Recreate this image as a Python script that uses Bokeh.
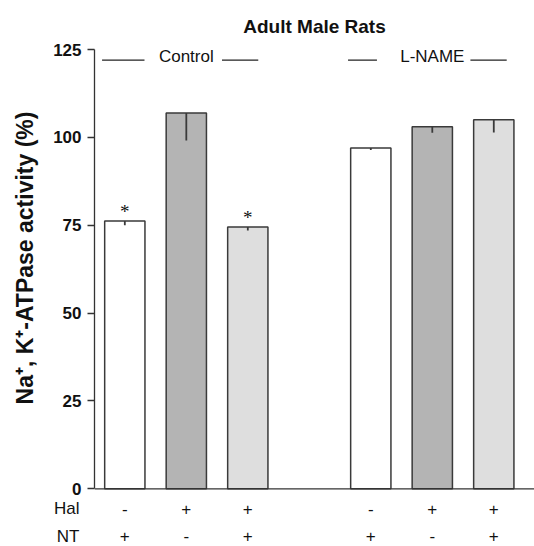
from bokeh.plotting import figure
from bokeh.models import ColumnDataSource, Label, LabelSet, Range1d, FixedTicker, Span
from bokeh.layouts import column
from bokeh.core.properties import value
from bokeh.embed import file_html
from bokeh.resources import INLINE

# ---- data ----
positions = [0, 1, 2, 4, 5, 6]
values = [76.2, 106.9, 74.5, 97.0, 103.0, 105.0]
errors = [1.2, 7.8, 1.0, 0.6, 1.7, 3.6]
colors = ["#ffffff", "#b4b4b4", "#dedede", "#ffffff", "#b4b4b4", "#dedede"]
hal = ["-", "+", "+", "-", "+", "+"]
nt = ["+", "-", "+", "+", "-", "+"]
signif = ["*", "", "*", "", "", ""]
y_ticks = [0, 25, 50, 75, 100, 125]
groups = ["Control", "L-NAME"]
group_centers = [1, 5]
row_names = ["Hal", "NT"]

FONT = "Liberation Sans"
TXT = "#111111"
PX_PER_Y = 3.512
ZERO_PX = 488.3

x_range = Range1d(-0.493, 6.662)   # frame spans 94..534 px

H1 = 498   # height of main panel; frame 49..498 px
p = figure(width=534, height=H1, output_backend="svg", toolbar_location=None,
           x_range=x_range, y_range=Range1d(-(H1 - ZERO_PX) / PX_PER_Y, 125),
           x_axis_location=None,
           min_border_left=94, min_border_right=0, min_border_top=49,
           min_border_bottom=0)
p.outline_line_color = None
p.xgrid.visible = False
p.ygrid.visible = False

p.title.text = "Adult Male Rats"
p.title.align = "center"
p.title.text_font = FONT
p.title.text_font_style = "bold"
p.title.text_font_size = "19px"
p.title.text_color = TXT
p.title.standoff = 26

src = ColumnDataSource(dict(x=positions, top=values, color=colors,
                            lo=[v - e for v, e in zip(values, errors)],
                            sig=signif, sy=[v + 0.9 for v in values]))

p.vbar(x="x", top="top", bottom=0, width=0.655, fill_color="color",
       line_color="#3a3a3a", line_width=1.5, source=src)
p.segment(x0="x", y0="lo", x1="x", y1="top", line_color="#3a3a3a",
          line_width=1.8, source=src)

# y axis
ya = p.yaxis[0]
ya.bounds = (0, 125)
ya.ticker = FixedTicker(ticks=y_ticks)
ya.minor_tick_line_color = None
ya.major_tick_in = 0
ya.major_tick_out = 7
ya.major_label_standoff = 6
ya.major_label_text_font = FONT
ya.major_label_text_font_style = "bold"
ya.major_label_text_font_size = "17px"
ya.major_label_text_color = TXT
ya.axis_line_color = "#333333"
ya.axis_line_width = 1.3
ya.major_tick_line_color = "#333333"
ya.major_tick_line_width = 1.3
ya.axis_label = "\u00a0" * 5 + "Na\u207a, K\u207a-ATPase activity (%)"
ya.axis_label_text_font = FONT
ya.axis_label_text_font_style = "bold"
ya.axis_label_text_font_size = "23px"
ya.axis_label_text_color = TXT
ya.axis_label_standoff = 12

# x axis line at zero
p.add_layout(Span(location=0, dimension="width", line_color="#333333",
                  line_width=1.3))

# significance stars
p.add_layout(LabelSet(x="x", y="sy", text="sig", source=src, text_align="center",
                      text_baseline="alphabetic", text_font=FONT,
                      text_font_size="19px", text_color=TXT))

# group labels with flanking lines
for name, cx in zip(groups, group_centers):
    p.add_layout(Label(x=cx, y=123.0, text=name, text_align="center",
                       text_baseline="middle", text_font=FONT,
                       text_font_size="17px", text_color=TXT))
seg_x0 = [-0.37, 1.58, 3.63, 5.62]
seg_x1 = [0.32, 2.17, 4.10, 6.21]
p.segment(x0=seg_x0, y0=[122.0] * 4, x1=seg_x1, y1=[122.0] * 4,
          line_color="#222222", line_width=1.2)

# ---- bottom strip with treatment rows (same x and y scale) ----
row_y = [-5.61, -13.58]
p2 = figure(width=534, height=546 - H1, output_backend="svg", toolbar_location=None,
            x_range=x_range,
            y_range=Range1d(-(546 - ZERO_PX) / PX_PER_Y, -(H1 - ZERO_PX) / PX_PER_Y),
            x_axis_location=None, min_border_left=94, min_border_right=0,
            min_border_top=0, min_border_bottom=0)
p2.outline_line_color = None
p2.xgrid.visible = False
p2.ygrid.visible = False

ya2 = p2.yaxis[0]
ya2.ticker = FixedTicker(ticks=row_y)
ya2.major_label_overrides = {row_y[0]: row_names[0], row_y[1]: row_names[1]}
ya2.axis_line_color = None
ya2.major_tick_line_color = None
ya2.minor_tick_line_color = None
ya2.major_tick_in = 0
ya2.major_tick_out = 0
ya2.major_label_standoff = 15
ya2.major_label_text_font = FONT
ya2.major_label_text_font_size = "17px"
ya2.major_label_text_color = TXT

for signs, yy in zip([hal, nt], row_y):
    p2.text(x=positions, y=[yy] * len(positions), text=signs,
            text_align="center", text_baseline="middle",
            text_font=value(FONT), text_font_size="17px", text_color=TXT)

layout = column(p, p2, spacing=0)
open("out.html", "w").write(file_html(layout, INLINE))
